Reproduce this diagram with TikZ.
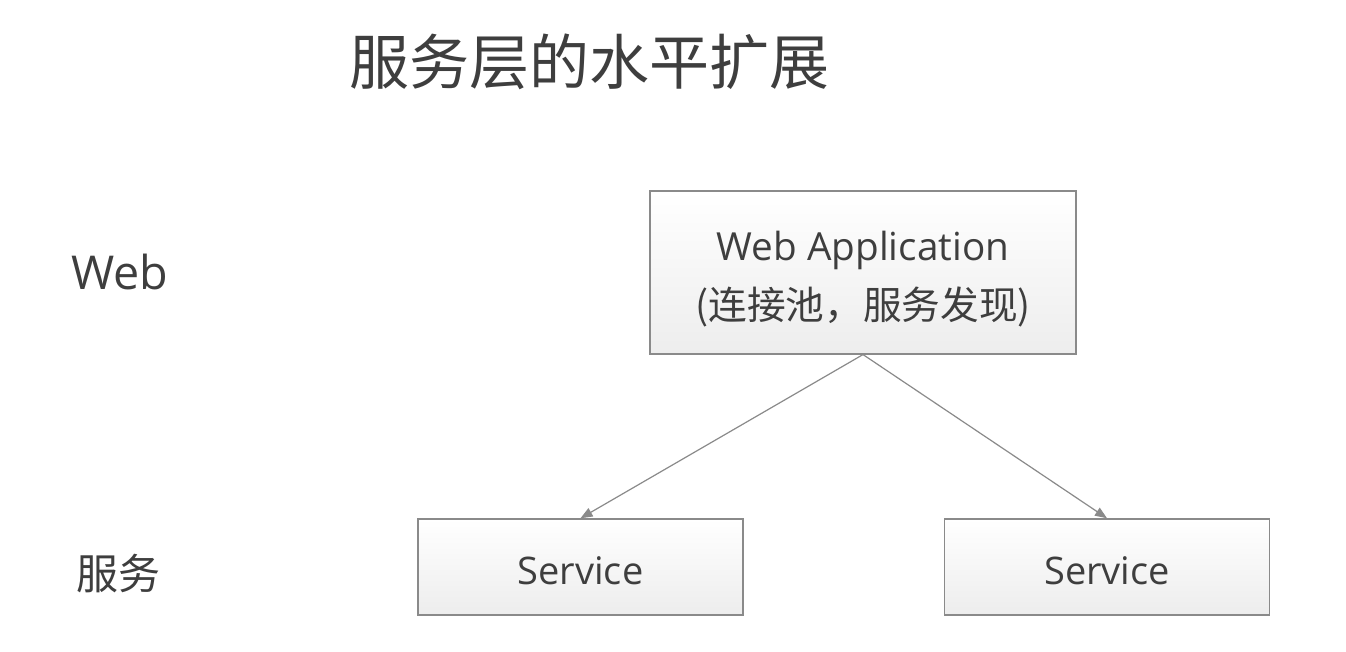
\documentclass[tikz,border=0pt]{standalone}
\usepackage{fontspec}
\setmainfont{Open Sans}
\newfontfamily\cjk{Noto Sans CJK SC}
\usetikzlibrary{arrows.meta}
\definecolor{txt}{HTML}{3E3E3E}
\definecolor{edge}{HTML}{8A8A8A}
\definecolor{boxbot}{HTML}{EDEDED}
\tikzset{
  box/.style={draw=edge, line width=1.1pt, top color=white, bottom color=boxbot,
              inner sep=0pt},
  conn/.style={draw=edge, line width=0.9pt, -{Triangle[length=9pt,width=7pt]}},
  lbl/.style={text=txt, inner sep=0pt, align=center}
}
\begin{document}
\begin{tikzpicture}[x=0.75pt,y=-0.75pt]
\useasboundingbox[fill=white] (0,0) rectangle (1346,652);
\node[lbl, font=\cjk\fontsize{45}{54}\selectfont] (title) at (589,62) {服务层的水平扩展};
\node[lbl, anchor=base west, font=\fontsize{35}{40}\selectfont] (web) at (71,290) {Web};
\node[lbl, anchor=west, font=\cjk\fontsize{31.5}{38}\selectfont] (svc) at (76,574) {服务};
\node[box, minimum width=319.5pt, minimum height=122pt] (app) at (863,272.5) {};
\node[lbl, font=\fontsize{29}{43}\selectfont] (apptext) at (863,279)
  {Web Application\\[1pt]{\cjk (连接池，服务发现)}};
\node[box, minimum width=244pt, minimum height=72pt] (s1) at (580.5,567) {};
\node[box, minimum width=244pt, minimum height=72pt] (s2) at (1107,567) {};
\node[lbl, font=\fontsize{28.5}{34}\selectfont] (s1text) at (580.5,571) {Service};
\node[lbl, font=\fontsize{28.5}{34}\selectfont] (s2text) at (1107,571) {Service};
\draw[conn] (app.south) -- (s1.north);
\draw[conn] (app.south) -- (s2.north);
\end{tikzpicture}
\end{document}
